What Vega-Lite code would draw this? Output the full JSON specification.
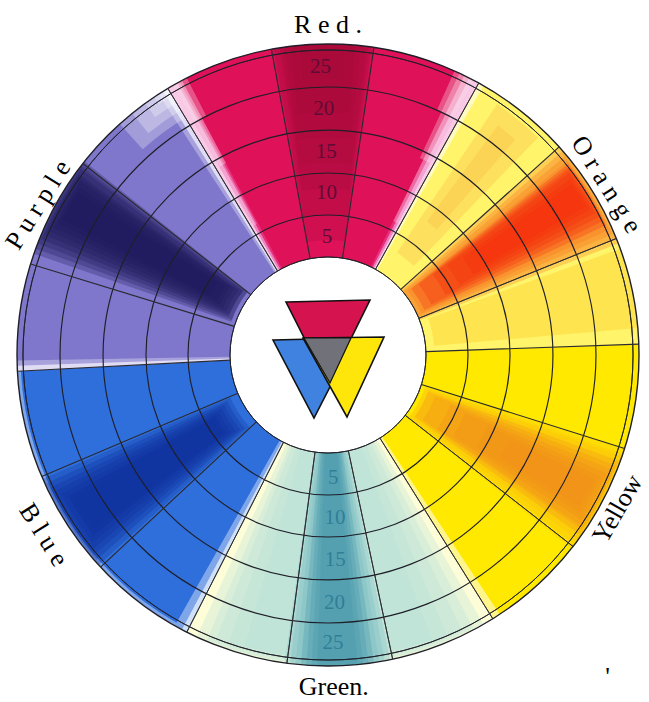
{
"$schema":"https://vega.github.io/schema/vega-lite/v6.json",
"width":642,"height":694,
"autosize":{"type":"none"},
"padding":{"left":7,"top":8,"right":0,"bottom":0},
"background":"white",
"view":{"stroke":null},
"config":{"style":{"cell":{"stroke":null}}},
"datasets":{
"base":[
{"tone":"red0","from":-31,"to":29,"r0":0,"r1":25},{"tone":"red1","from":-30,"to":28,"r0":0,"r1":25},{"tone":"red2","from":-29,"to":27,"r0":0,"r1":25},{"tone":"red3","from":-28,"to":26,"r0":0,"r1":25},
{"tone":"org0","from":29,"to":88,"r0":0,"r1":25},{"tone":"org1","from":30,"to":88,"r0":0,"r1":25},
{"tone":"yel0","from":88,"to":148,"r0":0,"r1":25},{"tone":"yel1","from":88,"to":146.5,"r0":0,"r1":25},
{"tone":"grn0","from":148,"to":207,"r0":0,"r1":25},
{"tone":"blu0","from":207,"to":267,"r0":0,"r1":25},{"tone":"blu1","from":208,"to":267,"r0":0,"r1":25},{"tone":"blu2","from":209.5,"to":267,"r0":0,"r1":24.6},
{"tone":"pur0","from":267,"to":329,"r0":0,"r1":25},{"tone":"pur1","from":268,"to":328,"r0":0,"r1":25},{"tone":"pur2","from":269,"to":327,"r0":0,"r1":25}
],
"wash":[
{"tone":"redDeep","from":-10.5,"to":8.5,"r0":2,"r1":25},{"tone":"redDeep","from":-10,"to":8,"r0":5,"r1":25},{"tone":"redDeep","from":-9,"to":7.5,"r0":8,"r1":25},{"tone":"redDeep","from":-8.5,"to":7,"r0":11,"r1":25},{"tone":"redDeep","from":-8,"to":6,"r0":14,"r1":25},{"tone":"redDeep","from":-7,"to":5,"r0":17,"r1":25},{"tone":"redDeep","from":-6,"to":4,"r0":19,"r1":25},{"tone":"redDeep","from":-5,"to":3,"r0":21,"r1":25},
{"tone":"white","from":-30,"to":-27,"r0":20,"r1":25},{"tone":"white","from":-30,"to":-28,"r0":14,"r1":25},{"tone":"white","from":-30,"to":-28.5,"r0":6,"r1":25},
{"tone":"white","from":24,"to":28,"r0":20,"r1":25},{"tone":"white","from":25,"to":28,"r0":14,"r1":25},{"tone":"white","from":26,"to":28,"r0":6,"r1":25},
{"tone":"orgTint","from":34,"to":44,"r0":3,"r1":24},{"tone":"orgTint","from":36.5,"to":41,"r0":8,"r1":22},{"tone":"yelMid","from":70,"to":85,"r0":1,"r1":25},
{"tone":"orgMid","from":48,"to":69,"r0":0,"r1":25},{"tone":"orgMid","from":49,"to":68,"r0":0,"r1":25},{"tone":"orgMid","from":50,"to":67,"r0":0,"r1":24.8},{"tone":"orgMid","from":51,"to":66,"r0":0.5,"r1":24.6},
{"tone":"orgHot","from":51.5,"to":65,"r0":1,"r1":24.5},{"tone":"orgHot","from":52,"to":64,"r0":2,"r1":24.4},{"tone":"orgHot","from":52.5,"to":63,"r0":4,"r1":24.2},{"tone":"orgHot","from":53,"to":62,"r0":6,"r1":24},{"tone":"orgHot","from":54,"to":61,"r0":8,"r1":23.7},{"tone":"orgHot","from":55,"to":60,"r0":10,"r1":23.4},
{"tone":"yelMid","from":107.5,"to":128.5,"r0":0.5,"r1":25},{"tone":"yelMid","from":108.5,"to":127.5,"r0":0.5,"r1":25},{"tone":"yelMid","from":109,"to":126.5,"r0":1,"r1":25},
{"tone":"yelHot","from":110,"to":125.5,"r0":1,"r1":24.8},{"tone":"yelHot","from":111,"to":124.5,"r0":2,"r1":24.6},{"tone":"yelHot","from":112,"to":124,"r0":4,"r1":24.4},{"tone":"yelHot","from":113,"to":123,"r0":6,"r1":24},{"tone":"yelHot","from":114,"to":122,"r0":9,"r1":23.5},{"tone":"yelHot","from":115,"to":121,"r0":12,"r1":23},
{"tone":"grn1","from":150,"to":205,"r0":0,"r1":25},{"tone":"grn1","from":152,"to":203,"r0":0,"r1":24.8},{"tone":"grn1","from":154,"to":201.5,"r0":0,"r1":24.5},{"tone":"grn1","from":157,"to":199,"r0":0,"r1":24.2},{"tone":"grn1","from":160,"to":196,"r0":0,"r1":24},
{"tone":"grnMid","from":168.5,"to":188,"r0":0,"r1":25},{"tone":"grnMid","from":169.5,"to":187,"r0":0,"r1":25},{"tone":"grnMid","from":170.5,"to":186,"r0":0,"r1":25},{"tone":"grnHot","from":171.5,"to":185,"r0":0,"r1":25},{"tone":"grnHot","from":172.5,"to":184,"r0":0,"r1":25},{"tone":"grnHot","from":173.5,"to":183,"r0":0,"r1":25},{"tone":"grnHot","from":174.5,"to":182,"r0":0,"r1":25},
{"tone":"bluHot","from":227.5,"to":246.5,"r0":1,"r1":25},{"tone":"bluHot","from":228.5,"to":245.5,"r0":1.5,"r1":24.8},{"tone":"bluHot","from":229.5,"to":244.5,"r0":2,"r1":24.6},{"tone":"bluHot","from":230.5,"to":243.5,"r0":2.5,"r1":24.2},{"tone":"bluHot","from":231.5,"to":242.5,"r0":3,"r1":23.8},{"tone":"bluHot","from":232.5,"to":241.5,"r0":3.5,"r1":23.2},{"tone":"bluHot","from":233.5,"to":240.5,"r0":4,"r1":22.6},
{"tone":"purHot","from":289,"to":308.5,"r0":0.5,"r1":25},{"tone":"purHot","from":290,"to":308,"r0":0.5,"r1":25},{"tone":"purHot","from":291,"to":307.5,"r0":1,"r1":25},{"tone":"purHot","from":292,"to":307,"r0":1,"r1":24.8},{"tone":"purHot","from":293,"to":306,"r0":1.5,"r1":24.6},{"tone":"purHot","from":294,"to":305.5,"r0":2,"r1":24.4},{"tone":"purHot","from":295,"to":305,"r0":2.5,"r1":24},{"tone":"purHot","from":296,"to":304,"r0":3,"r1":23.7},{"tone":"purHot","from":297,"to":303,"r0":4,"r1":23.4},
{"tone":"white","from":318,"to":329,"r0":21,"r1":25},{"tone":"white","from":321,"to":329,"r0":22,"r1":25},{"tone":"white","from":324,"to":329,"r0":23,"r1":25},{"tone":"white","from":326,"to":329,"r0":24,"r1":25}
],
"rings":[
{"r":0,"from":0,"to":360,"weight":"thin"},{"r":4.93,"from":0,"to":360,"weight":"mid"},{"r":9.86,"from":0,"to":360,"weight":"mid"},{"r":14.9,"from":0,"to":360,"weight":"mid"},{"r":19.95,"from":0,"to":360,"weight":"mid"},{"r":24.3,"from":0,"to":360,"weight":"thin"},{"r":25,"from":0,"to":360,"weight":"thick"}
],
"spokes":[
{"a":-31,"r0":0,"r1":25,"weight":"thin"},{"a":-10.5,"r0":0,"r1":25,"weight":"mid"},{"a":8.5,"r0":0,"r1":25,"weight":"mid"},{"a":29,"r0":0,"r1":25,"weight":"thin"},{"a":48,"r0":0,"r1":25,"weight":"mid"},{"a":68,"r0":0,"r1":25,"weight":"thin"},{"a":88,"r0":0,"r1":25,"weight":"mid"},{"a":107.5,"r0":0,"r1":25,"weight":"mid"},{"a":128,"r0":0,"r1":25,"weight":"thin"},{"a":148,"r0":0,"r1":25,"weight":"thin"},{"a":168,"r0":0,"r1":25,"weight":"thin"},{"a":187.6,"r0":0,"r1":25,"weight":"thin"},{"a":207,"r0":0,"r1":25,"weight":"thin"},{"a":227,"r0":0,"r1":25,"weight":"mid"},{"a":247,"r0":0,"r1":25,"weight":"mid"},{"a":267,"r0":0,"r1":25,"weight":"mid"},{"a":287,"r0":0,"r1":25,"weight":"mid"},{"a":308,"r0":0,"r1":25,"weight":"mid"}
],
"labels":[
{"name":"R e d .","a":0,"r":27.2,"tilt":0},
{"name":"O r a n g e","a":58.5,"r":26.8,"tilt":58},
{"name":"Yellow","a":118,"r":27,"tilt":-60},
{"name":"Green.","a":179,"r":27.5,"tilt":0},
{"name":"B l u e","a":237.7,"r":28,"tilt":58},
{"name":"P u r p l e","a":297.4,"r":26.8,"tilt":-58},
{"name":"'","a":139,"r":38.5,"tilt":0}
],
"numbers":[
{"n":"5","a":359.5,"r":2.35,"tone":"red"},{"n":"10","a":359.5,"r":7.5,"tone":"red"},{"n":"15","a":359.5,"r":12.3,"tone":"red"},{"n":"20","a":359,"r":17.4,"tone":"red"},{"n":"25","a":358.5,"r":22.3,"tone":"red"},
{"n":"5","a":177.5,"r":2.9,"tone":"green"},{"n":"10","a":177.5,"r":7.6,"tone":"green"},{"n":"15","a":178,"r":12.6,"tone":"green"},{"n":"20","a":178.5,"r":17.6,"tone":"green"},{"n":"25","a":179,"r":22.3,"tone":"green"}
],
"triangles":[
{"tone":"triRed","x":286,"top":302,"bottom":302},{"tone":"triRed","x":328,"top":301,"bottom":385},{"tone":"triRed","x":370,"top":300,"bottom":300},
{"tone":"triBlue","x":273,"top":340,"bottom":340},{"tone":"triBlue","x":314,"top":339,"bottom":418},{"tone":"triBlue","x":355,"top":338,"bottom":338},
{"tone":"triYellow","x":303,"top":338,"bottom":338},{"tone":"triYellow","x":347,"top":337.5,"bottom":417},{"tone":"triYellow","x":384,"top":337,"bottom":337}
],
"overlap":[
{"tone":"triGray","x":304,"top":338,"bottom":338},{"tone":"triGray","x":330,"top":338,"bottom":383},{"tone":"triGray","x":351,"top":338,"bottom":338}
]
},
"layer":[
{"data":{"name":"base"},"mark":{"type":"arc","strokeWidth":0},
"encoding":{
"theta":{"field":"from","type":"quantitative","scale":{"type":"linear","domain":[0,360],"range":[0,6.283185]}},
"theta2":{"field":"to"},
"radius":{"field":"r1","type":"quantitative","scale":{"type":"linear","domain":[0,25],"range":[98,311]}},
"radius2":{"field":"r0"},
"color":{"field":"tone","type":"nominal","legend":null,"scale":{"domain":["red0","red1","red2","red3","org0","org1","yel0","yel1","grn0","blu0","blu1","blu2","pur0","pur1","pur2","redDeep","white","orgTint","orgMid","orgHot","yelMid","yelHot","grn1","grnMid","grnHot","bluHot","purHot","triRed","triBlue","triYellow","triGray"],"range":["#f9c9e6","#ee80c0","#e6307c","#df1159","#fffbc0","#fff46a","#fff58a","#ffe900","#fdfdd8","#d0e0f6","#7fa6e9","#2f6fdc","#e0dcf4","#a8a2dc","#7f77cb","#a50a3a","#ffffff","#f8b040","#f8701a","#f5280a","#fbbf10","#ef8c1c","#b3dfd6","#6fb6bf","#3f92aa","#0f2f9c","#1c1a58","#d5134f","#3f82e0","#ffe60a","#71717a"]}}
}},
{"data":{"name":"wash"},"mark":{"type":"arc","fillOpacity":0.28,"strokeWidth":0},
"encoding":{
"theta":{"field":"from","type":"quantitative"},
"theta2":{"field":"to"},
"radius":{"field":"r1","type":"quantitative"},
"radius2":{"field":"r0"},
"color":{"field":"tone","type":"nominal","legend":null}
}},
{"data":{"name":"rings"},"mark":{"type":"arc","fillOpacity":0,"stroke":"#1f1f28"},
"encoding":{
"theta":{"field":"from","type":"quantitative"},
"theta2":{"field":"to"},
"radius":{"field":"r","type":"quantitative"},
"radius2":{"field":"r"},
"strokeWidth":{"field":"weight","type":"ordinal","legend":null,"scale":{"domain":["thin","mid","thick"],"range":[0.9,1.4,2.4]}}
}},
{"data":{"name":"spokes"},"mark":{"type":"arc","fillOpacity":0,"stroke":"#2a2a30"},
"encoding":{
"theta":{"field":"a","type":"quantitative"},
"theta2":{"field":"a"},
"radius":{"field":"r1","type":"quantitative"},
"radius2":{"field":"r0"},
"strokeWidth":{"field":"weight","type":"ordinal","legend":null}
}},
{"data":{"name":"numbers"},"mark":{"type":"text","font":"Liberation Serif","fontSize":21,"align":"center","baseline":"middle"},
"encoding":{
"theta":{"field":"a","type":"quantitative"},
"radius":{"field":"r","type":"quantitative"},
"text":{"field":"n","type":"nominal"},
"fill":{"field":"tone","type":"nominal","legend":null,"scale":{"domain":["red","green"],"range":["#5e0c34","#2f7f96"]}}
}},
{"data":{"name":"labels"},"mark":{"type":"text","font":"Liberation Serif","fontSize":26,"align":"center","baseline":"middle","fill":"#000000"},
"encoding":{
"theta":{"field":"a","type":"quantitative"},
"radius":{"field":"r","type":"quantitative"},
"text":{"field":"name","type":"nominal"},
"angle":{"field":"tilt","type":"quantitative","scale":null}
}},
{"data":{"name":"triangles"},"mark":{"type":"area","stroke":"#111111","strokeWidth":1.6,"interpolate":"linear"},
"encoding":{
"x":{"field":"x","type":"quantitative","axis":null,"scale":{"domain":[7,649],"nice":false,"zero":false}},
"y":{"field":"top","type":"quantitative","axis":null,"scale":{"domain":[702,8],"nice":false,"zero":false}},
"y2":{"field":"bottom"},
"color":{"field":"tone","type":"nominal","legend":null}
}},
{"data":{"name":"overlap"},"mark":{"type":"area","stroke":"#111111","strokeWidth":1.2,"interpolate":"linear"},
"encoding":{
"x":{"field":"x","type":"quantitative"},
"y":{"field":"top","type":"quantitative"},
"y2":{"field":"bottom"},
"color":{"field":"tone","type":"nominal","legend":null}
}}
]
}
